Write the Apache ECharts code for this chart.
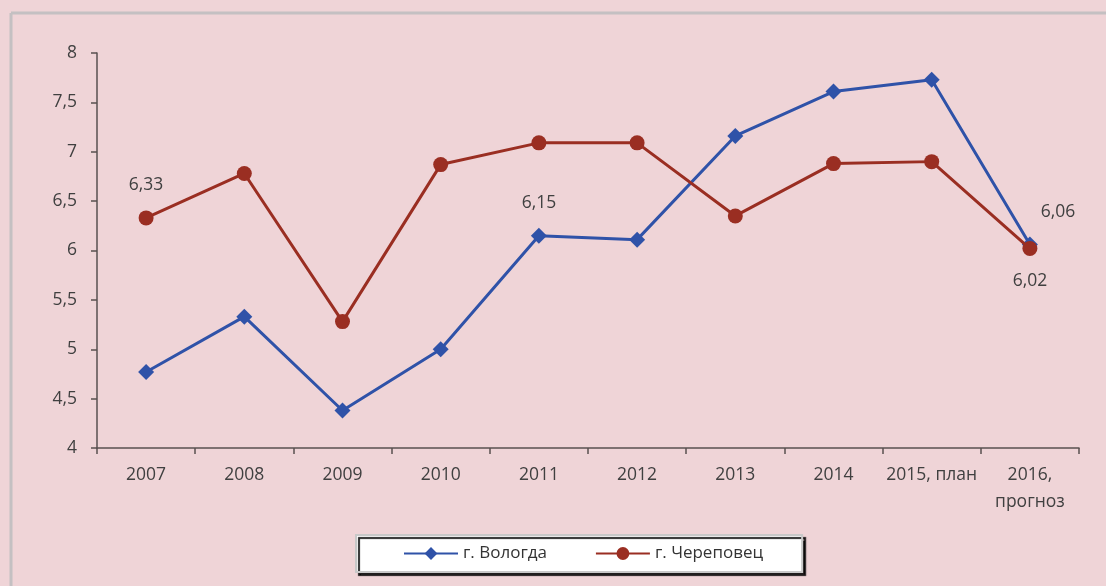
<!DOCTYPE html>
<html>
<head>
<meta charset="utf-8">
<script src="https://cdn.jsdelivr.net/npm/echarts@6/dist/echarts.min.js"></script>
<style>
  html, body { margin: 0; padding: 0; background: #efd4d7; }
  #chart { width: 1106px; height: 586px; }
</style>
</head>
<body>
<div id="chart"></div>
<script>
  // годы
  var years = ['2007', '2008', '2009', '2010', '2011', '2012', '2013', '2014', '2015, план', '2016,\nпрогноз'];
  var vologda = [4.77, 5.33, 4.38, 5.00, 6.15, 6.11, 7.16, 7.61, 7.73, 6.06];
  var cherepovets = [6.33, 6.78, 5.28, 6.87, 7.09, 7.09, 6.35, 6.88, 6.90, 6.02];
  var seriesNames = ['г. Вологда', 'г. Череповец'];
  // подписанные точки
  var vologdaLabelled = [4, 9];
  var cherepovetsLabelled = [0, 9];

  var FONT = 'Open Sans';

  function comma(v) {
    return String(v).replace('.', ',');
  }
  function fmt2(v) {
    return v.toFixed(2).replace('.', ',');
  }

  function buildData(values, labelled, labelFor) {
    return values.map(function (v, i) {
      if (labelled.indexOf(i) < 0) return v;
      return { value: v, label: labelFor(i) };
    });
  }

  var labelBase = { show: true, color: '#404040', fontSize: 17.5, fontFamily: FONT, formatter: function (p) { return fmt2(p.value); } };

  var myChart = echarts.init(document.getElementById('chart'));
  myChart.setOption({
    backgroundColor: '#efd4d7',
    textStyle: { fontFamily: FONT },
    animation: false,
    graphic: [
      { type: 'line', shape: { x1: 11, y1: 13, x2: 1106, y2: 13 }, style: { stroke: '#c4c0c2', lineWidth: 3 } },
      { type: 'line', shape: { x1: 11, y1: 13, x2: 11, y2: 586 }, style: { stroke: '#c4c0c2', lineWidth: 3 } }
    ],
    grid: { left: 97, right: 27, top: 53, bottom: 138 },
    legend: {
      data: seriesNames,
      left: 356,
      top: 535,
      padding: [10, 39, 10, 47],
      itemGap: 48,
      itemWidth: 54,
      itemHeight: 16,
      backgroundColor: '#ffffff',
      borderColor: '#c8c8c8',
      borderWidth: 2,
      shadowColor: 'rgba(0,0,0,0.85)',
      shadowOffsetX: 3,
      shadowOffsetY: 3,
      shadowBlur: 1,
      textStyle: { fontSize: 17, color: '#333333', fontFamily: FONT }
    },
    xAxis: {
      type: 'category',
      data: years,
      boundaryGap: true,
      axisLine: { lineStyle: { color: '#595050', width: 1.5 } },
      axisTick: { show: true, length: 6, inside: false, lineStyle: { color: '#595050', width: 1.5 } },
      axisLabel: { color: '#404040', fontSize: 17.5, margin: 14, lineHeight: 27, interval: 0 },
      splitLine: { show: false }
    },
    yAxis: {
      type: 'value',
      min: 4,
      max: 8,
      interval: 0.5,
      axisLine: { show: true, lineStyle: { color: '#595050', width: 1.5 } },
      axisTick: { show: true, length: 6, lineStyle: { color: '#595050', width: 1.5 } },
      axisLabel: { color: '#404040', fontSize: 17.5, margin: 20, formatter: comma },
      splitLine: { show: false }
    },
    series: [
      {
        name: seriesNames[0],
        type: 'line',
        data: buildData(vologda, vologdaLabelled, function (i) {
          return i === 9
            ? Object.assign({}, labelBase, { position: 'top', offset: [28, -11] })
            : Object.assign({}, labelBase, { position: 'top', offset: [0, -11] });
        }),
        symbol: 'diamond',
        symbolSize: 16,
        lineStyle: { color: '#2f52a8', width: 3 },
        itemStyle: { color: '#2f52a8' },
        label: { show: false },
        z: 3
      },
      {
        name: seriesNames[1],
        type: 'line',
        data: buildData(cherepovets, cherepovetsLabelled, function (i) {
          return i === 9
            ? Object.assign({}, labelBase, { position: 'bottom', offset: [0, 11] })
            : Object.assign({}, labelBase, { position: 'top', offset: [0, -11] });
        }),
        symbol: 'circle',
        symbolSize: 15,
        lineStyle: { color: '#9a2e22', width: 3 },
        itemStyle: { color: '#9a2e22' },
        label: { show: false },
        z: 4
      }
    ]
  });
</script>
</body>
</html>
